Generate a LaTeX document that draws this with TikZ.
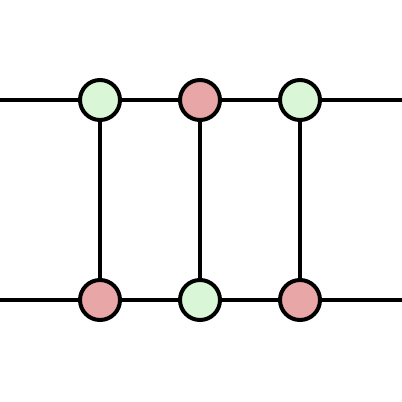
\documentclass[tikz,border=0pt]{standalone}
\usepackage{xcolor}
\usepackage{tikz}
\definecolor{greenx}{HTML}{D9F7D6}
\definecolor{redx}{HTML}{E8A6A6}
\tikzset{
  wire/.style={line width=3.5pt,black},
  dot/.style={circle,draw=black,line width=4pt,minimum size=40pt,inner sep=0pt},
  gdot/.style={dot,fill=greenx},
  rdot/.style={dot,fill=redx}
}
\begin{document}
\begin{tikzpicture}[x=1pt,y=-1pt]
\useasboundingbox (0,0) rectangle (402,402);
\coordinate (tl) at (0,100);
\coordinate (tr) at (402,100);
\coordinate (bl) at (0,300);
\coordinate (br) at (402,300);
\draw[wire] (tl)--(tr);
\draw[wire] (bl)--(br);
\foreach \i in {1,2,3} {
  \coordinate (t\i) at (\i*100,100);
  \coordinate (b\i) at (\i*100,300);
  \draw[wire] (t\i)--(b\i);
}
\node[gdot] (top1) at (t1) {};
\node[rdot] (top2) at (t2) {};
\node[gdot] (top3) at (t3) {};
\node[rdot] (bot1) at (b1) {};
\node[gdot] (bot2) at (b2) {};
\node[rdot] (bot3) at (b3) {};
\end{tikzpicture}
\end{document}
